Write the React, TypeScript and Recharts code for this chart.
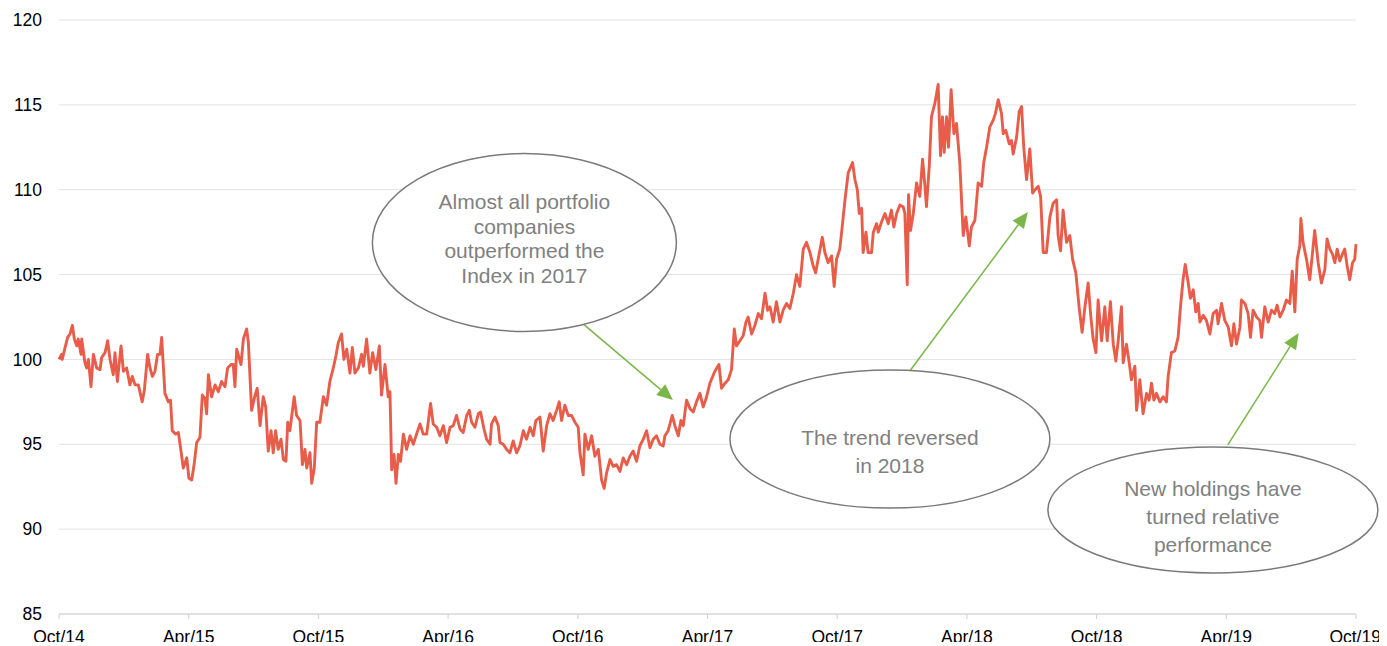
import React from 'react'
import { LineChart, Line, XAxis, YAxis, CartesianGrid, ReferenceDot, ReferenceLine } from 'recharts'

// relative performance vs index, x = months since Oct 2014
const oct14ToApr15: [number, number][] = [
  [0, 100.0], [0.12, 100.3], [0.15, 100.0], [0.28, 100.7], [0.4, 101.3], [0.51, 101.5], [0.62, 102.0], [0.71, 101.2],
  [0.82, 100.8], [0.89, 101.2], [1.02, 100.3], [1.05, 101.2], [1.2, 99.8], [1.28, 99.5], [1.36, 100.0], [1.48, 98.4],
  [1.59, 100.3], [1.74, 99.5], [1.9, 99.4], [1.97, 100.1], [2.13, 100.4], [2.25, 101.1], [2.36, 100.0], [2.51, 99.1],
  [2.59, 100.4], [2.7, 98.7], [2.87, 100.8], [2.98, 99.3], [3.13, 99.5], [3.28, 98.5], [3.39, 99.0], [3.52, 98.5],
  [3.67, 98.5], [3.85, 97.5], [3.95, 98.2], [4.1, 100.3], [4.21, 99.5], [4.32, 99.0], [4.44, 99.3], [4.56, 100.3],
  [4.67, 100.3], [4.75, 101.3], [4.9, 98.0], [5.06, 97.5], [5.16, 97.6], [5.24, 95.8], [5.4, 95.6], [5.52, 95.7],
  [5.6, 95.0], [5.75, 93.6], [5.91, 94.2],
]
const apr15ToOct15: [number, number][] = [
  [6.01, 93.0], [6.14, 92.9], [6.26, 93.9], [6.37, 95.1], [6.52, 95.4], [6.63, 97.9], [6.75, 97.7], [6.83, 96.8],
  [6.91, 99.1], [7.06, 97.8], [7.22, 98.5], [7.37, 98.1], [7.52, 98.7], [7.68, 98.4], [7.8, 99.5], [7.96, 99.7],
  [8.06, 99.7], [8.14, 98.4], [8.22, 100.6], [8.42, 99.7], [8.53, 101.2], [8.68, 101.8], [8.76, 101.0], [8.91, 97.0],
  [9.07, 97.9], [9.17, 98.3], [9.3, 96.1], [9.45, 97.8], [9.56, 97.2], [9.68, 94.6], [9.81, 95.8], [9.91, 94.5],
  [10.02, 95.8], [10.14, 94.7], [10.27, 95.3], [10.38, 94.1], [10.5, 94.0], [10.58, 96.3], [10.68, 95.8], [10.88, 97.8],
  [10.99, 96.7], [11.15, 96.4], [11.26, 93.8], [11.38, 94.7], [11.46, 93.6], [11.61, 94.5], [11.69, 92.7], [11.81, 93.6],
  [11.92, 96.3],
]
const oct15ToApr16: [number, number][] = [
  [12.07, 96.3], [12.23, 97.8], [12.38, 97.3], [12.53, 98.7], [12.69, 99.5], [12.81, 100.2], [12.92, 101.0], [13.07, 101.5],
  [13.18, 100.0], [13.31, 100.6], [13.46, 99.2], [13.57, 100.7], [13.69, 99.2], [13.85, 99.5], [14.0, 100.3], [14.08, 99.6],
  [14.23, 101.2], [14.38, 99.2], [14.51, 100.4], [14.66, 99.4], [14.82, 100.8], [14.92, 97.9], [15.08, 99.7], [15.23, 97.8],
  [15.31, 98.1], [15.39, 93.5], [15.5, 94.4], [15.59, 92.7], [15.7, 94.4], [15.8, 94.0], [15.93, 95.6], [16.08, 94.7],
  [16.24, 95.5], [16.39, 95.0], [16.54, 95.6], [16.7, 96.2], [16.85, 95.6], [17.01, 95.6], [17.19, 97.4], [17.31, 96.2],
  [17.47, 96.0], [17.62, 95.5], [17.78, 96.1], [17.93, 95.1],
]
const apr16ToOct16: [number, number][] = [
  [18.09, 96.0], [18.24, 96.1], [18.39, 96.7], [18.55, 95.9], [18.7, 95.7], [18.86, 96.7], [18.98, 97.0], [19.09, 96.3],
  [19.24, 96.0], [19.4, 96.8], [19.5, 96.9], [19.66, 95.9], [19.78, 95.3], [19.94, 95.0], [20.01, 96.2], [20.17, 96.6],
  [20.32, 96.1], [20.4, 95.1], [20.55, 95.0], [20.71, 94.7], [20.86, 94.5], [21.01, 95.2], [21.17, 94.5], [21.32, 94.9],
  [21.48, 95.8], [21.63, 95.3], [21.79, 96.0], [21.94, 95.5], [22.06, 96.4], [22.25, 96.6], [22.4, 94.6], [22.56, 96.1],
  [22.71, 96.8], [22.86, 96.4], [23.02, 97.0], [23.14, 97.5], [23.25, 96.4], [23.4, 97.3], [23.56, 96.7], [23.71, 96.7],
  [23.87, 96.3],
]
const oct16ToApr17: [number, number][] = [
  [24.02, 96.0], [24.1, 94.5], [24.25, 93.2], [24.33, 95.6], [24.48, 94.7], [24.64, 95.5], [24.79, 94.3], [24.95, 94.7],
  [25.1, 92.9], [25.22, 92.4], [25.33, 93.3], [25.49, 94.1], [25.64, 93.7], [25.79, 93.8], [25.95, 93.4], [26.1, 94.2],
  [26.26, 93.8], [26.41, 94.3], [26.56, 94.6], [26.72, 94.0], [26.87, 94.9], [27.03, 95.3], [27.18, 95.8], [27.34, 94.8],
  [27.49, 95.3], [27.64, 95.5], [27.8, 95.0], [27.95, 94.9], [28.03, 95.5], [28.18, 95.8], [28.37, 96.7], [28.49, 96.1],
  [28.65, 95.5], [28.77, 96.4], [28.88, 96.1], [29.03, 97.6], [29.19, 97.1], [29.34, 96.9], [29.49, 97.5], [29.65, 98.0],
  [29.8, 97.2], [29.96, 97.8],
]
const apr17ToOct17: [number, number][] = [
  [30.11, 98.6], [30.34, 99.3], [30.53, 99.7], [30.65, 98.3], [30.81, 98.6], [30.96, 98.8], [31.11, 99.4], [31.24, 101.8],
  [31.34, 100.8], [31.5, 101.1], [31.65, 101.4], [31.78, 102.2], [31.88, 102.5], [32.04, 101.5], [32.19, 102.0], [32.35, 102.7],
  [32.5, 102.4], [32.66, 103.9], [32.78, 102.9], [32.89, 103.1], [33.04, 102.2], [33.19, 103.4], [33.35, 102.2], [33.5, 102.9],
  [33.66, 103.3], [33.81, 103.0], [33.97, 103.9], [34.12, 105.0], [34.27, 104.3], [34.43, 106.5], [34.58, 106.9], [34.74, 106.3],
  [34.89, 105.5], [35.0, 105.1], [35.12, 105.9], [35.31, 107.2], [35.43, 106.3], [35.58, 105.7], [35.74, 106.1], [35.86, 104.3],
  [35.97, 105.9],
]
const oct17ToApr18: [number, number][] = [
  [36.12, 106.5], [36.23, 107.8], [36.36, 109.4], [36.51, 111.0], [36.71, 111.6], [36.82, 110.6], [36.93, 110.0], [37.02, 108.6],
  [37.13, 108.9], [37.2, 106.3], [37.33, 107.5], [37.43, 106.3], [37.59, 106.3], [37.67, 107.5], [37.82, 108.0], [37.9, 107.5],
  [38.05, 108.1], [38.21, 108.6], [38.36, 108.0], [38.51, 108.8], [38.62, 107.8], [38.75, 108.6], [38.9, 109.1], [39.05, 109.0],
  [39.13, 108.6], [39.24, 104.4], [39.3, 109.7], [39.39, 107.6], [39.52, 108.6], [39.67, 110.4], [39.82, 109.6], [39.95, 111.8],
  [40.06, 110.2], [40.13, 109.0], [40.26, 111.4], [40.36, 114.3], [40.52, 115.1], [40.67, 116.2], [40.78, 112.0], [40.87, 114.3],
  [40.95, 112.2], [41.06, 114.3], [41.15, 112.5], [41.27, 115.9], [41.4, 113.3], [41.52, 113.9], [41.67, 111.6], [41.83, 107.3],
  [41.95, 108.4],
]
const apr18ToOct18: [number, number][] = [
  [42.11, 106.7], [42.21, 107.8], [42.37, 108.2], [42.52, 110.4], [42.68, 110.2], [42.78, 111.6], [42.91, 112.5], [43.06, 113.7],
  [43.22, 114.1], [43.32, 114.5], [43.45, 115.3], [43.6, 114.5], [43.68, 113.3], [43.8, 113.5], [43.96, 112.7], [44.06, 112.9],
  [44.14, 112.1], [44.3, 113.1], [44.42, 114.6], [44.53, 114.9], [44.63, 112.5], [44.76, 110.6], [44.91, 112.4], [45.04, 109.8],
  [45.16, 110.0], [45.3, 110.2], [45.41, 109.6], [45.53, 106.3], [45.68, 106.3], [45.84, 108.4], [45.99, 109.2], [46.15, 109.4],
  [46.22, 107.3], [46.33, 106.4], [46.45, 108.8], [46.61, 106.9], [46.76, 107.3], [46.89, 105.9], [47.04, 105.1], [47.19, 103.1],
  [47.33, 101.6], [47.46, 103.1], [47.61, 104.5], [47.72, 102.7], [47.84, 101.2], [47.97, 100.4],
]
const oct18ToApr19: [number, number][] = [
  [48.07, 103.5], [48.23, 101.1], [48.38, 103.1], [48.49, 101.1], [48.64, 103.4], [48.77, 100.9], [48.89, 99.9], [49.0, 101.1],
  [49.15, 103.1], [49.23, 99.8], [49.38, 100.9], [49.51, 99.8], [49.61, 98.8], [49.77, 99.6], [49.85, 97.0], [50.0, 98.8],
  [50.15, 96.8], [50.31, 98.0], [50.43, 97.6], [50.54, 98.6], [50.65, 97.6], [50.77, 98.0], [50.93, 97.5], [51.08, 97.8],
  [51.23, 97.5], [51.31, 99.0], [51.46, 100.4], [51.62, 100.5], [51.77, 101.3], [51.88, 103.1], [52.0, 104.7], [52.1, 105.6],
  [52.24, 104.5], [52.34, 103.6], [52.47, 104.1], [52.59, 102.8], [52.7, 103.3], [52.78, 102.2], [52.93, 102.6], [53.08, 102.3],
  [53.24, 101.5], [53.39, 102.7], [53.55, 102.9], [53.62, 102.1], [53.78, 103.3], [53.93, 102.3],
]
const apr19ToOct19: [number, number][] = [
  [54.09, 101.9], [54.24, 100.8], [54.35, 102.1], [54.47, 100.9], [54.63, 101.9], [54.7, 103.5], [54.86, 103.3], [55.01, 102.7],
  [55.12, 101.3], [55.24, 102.9], [55.4, 102.5], [55.55, 102.3], [55.63, 101.3], [55.78, 103.1], [55.94, 102.2], [56.09, 102.9],
  [56.24, 102.7], [56.35, 103.2], [56.48, 102.5], [56.63, 102.9], [56.78, 103.5], [56.94, 103.3], [57.05, 105.2], [57.17, 102.8],
  [57.28, 105.9], [57.4, 106.7], [57.45, 108.3], [57.55, 106.9], [57.71, 105.9], [57.86, 104.7], [57.99, 106.3], [58.09, 107.6],
  [58.25, 105.7], [58.4, 104.5], [58.56, 105.3], [58.66, 107.1], [58.79, 106.5], [58.91, 106.2], [59.02, 105.7], [59.13, 106.5],
  [59.25, 105.8], [59.37, 106.2], [59.48, 106.5], [59.59, 105.5], [59.71, 104.7], [59.84, 105.7], [59.94, 105.9], [60, 106.8],
]

const xTicks = [0, 6, 12, 18, 24, 30, 36, 42, 48, 54, 60]
const xTickLabels = ['Oct/14', 'Apr/15', 'Oct/15', 'Apr/16', 'Oct/16', 'Apr/17', 'Oct/17', 'Apr/18', 'Oct/18', 'Apr/19', 'Oct/19']
const yTicks = [85, 90, 95, 100, 105, 110, 115, 120]

const notes = [
  { m: 21.53, v: 106.89, rx: 152, ry: 89, firstDy: -33.5, gap: 24.6, lines: ['Almost all portfolio', 'companies', 'outperformed the', 'Index in 2017'] },
  { m: 38.44, v: 95.31, rx: 160, ry: 69, firstDy: 6, gap: 27.7, lines: ['The trend reversed', 'in 2018'] },
  { m: 53.38, v: 91.13, rx: 165, ry: 63, firstDy: -14, gap: 27.8, lines: ['New holdings have', 'turned relative', 'performance'] },
]

const arrows = [
  { from: [24.19, 102.15], to: [28.4, 97.61] },
  { from: [39.36, 99.32], to: [44.82, 108.69] },
  { from: [54.07, 94.96], to: [57.35, 101.56] },
]

const data = [
  ...oct14ToApr15, ...apr15ToOct15, ...oct15ToApr16, ...apr16ToOct16, ...oct16ToApr17,
  ...apr17ToOct17, ...oct17ToApr18, ...apr18ToOct18, ...oct18ToApr19, ...apr19ToOct19,
].map(([m, v]) => ({ m, v }))

const FONT = '"Liberation Sans", Arial, sans-serif'

const renderArrow = (props: any) => {
  const { x1, y1, x2, y2 } = props
  const dx = x2 - x1
  const dy = y2 - y1
  const len = Math.hypot(dx, dy)
  const ux = dx / len
  const uy = dy / len
  const hl = 16
  const hw = 7
  const bx = x2 - ux * hl
  const by = y2 - uy * hl
  return (
    <g>
      <line x1={x1} y1={y1} x2={bx} y2={by} stroke="#7ab648" strokeWidth={1.5} />
      <polygon
        points={`${x2},${y2} ${bx - uy * hw},${by + ux * hw} ${bx + uy * hw},${by - ux * hw}`}
        fill="#7ab648"
      />
    </g>
  )
}

const noteShape = (note: typeof notes[number]) => (props: any) => {
  const { cx, cy } = props
  return (
    <g>
      <ellipse cx={cx} cy={cy} rx={note.rx} ry={note.ry} fill="#ffffff" stroke="#7a7a7a" strokeWidth={1.5} />
      <text x={cx} y={cy + note.firstDy} textAnchor="middle" fill="#808080" fontSize={21} fontFamily={FONT}>
        {note.lines.map((line, i) => (
          <tspan key={i} x={cx} dy={i === 0 ? 0 : note.gap}>{line}</tspan>
        ))}
      </text>
    </g>
  )
}

export default function App() {
  return (
    <div style={{ width: 1371, height: 634 }}>
      <style>{'svg.recharts-surface { overflow: visible; }'}</style>
      <LineChart width={1371} height={634} data={data} margin={{ top: 12, right: 23, left: 0, bottom: 0 }}>
        <CartesianGrid vertical={false} stroke="#e2e2e2" />
        <XAxis
          dataKey="m"
          type="number"
          domain={[0, 60]}
          ticks={xTicks}
          tickFormatter={(v: number) => xTickLabels[xTicks.indexOf(v)]}
          height={28}
          tickSize={5}
          tickMargin={12}
          axisLine={{ stroke: '#d0d0d0' }}
          tickLine={{ stroke: '#d0d0d0' }}
          tick={{ fill: '#000', fontSize: 17.5, fontFamily: FONT }}
        />
        <YAxis
          type="number"
          domain={[85, 120]}
          ticks={yTicks}
          width={51}
          axisLine={false}
          tickLine={false}
          tickSize={0}
          tickMargin={17}
          tick={{ fill: '#000', fontSize: 17.5, fontFamily: FONT }}
        />
        <Line
          type="linear"
          dataKey="v"
          stroke="#e85d4a"
          strokeWidth={2.9}
          strokeLinejoin="round"
          dot={false}
          activeDot={false}
          isAnimationActive={false}
        />
        {arrows.map((a, i) => (
          <ReferenceLine
            key={`arrow-${i}`}
            segment={[{ x: a.from[0], y: a.from[1] }, { x: a.to[0], y: a.to[1] }]}
            ifOverflow="visible"
            shape={renderArrow}
          />
        ))}
        {notes.map((n, i) => (
          <ReferenceDot key={`note-${i}`} x={n.m} y={n.v} r={1} shape={noteShape(n)} ifOverflow="visible" />
        ))}
      </LineChart>
    </div>
  )
}
